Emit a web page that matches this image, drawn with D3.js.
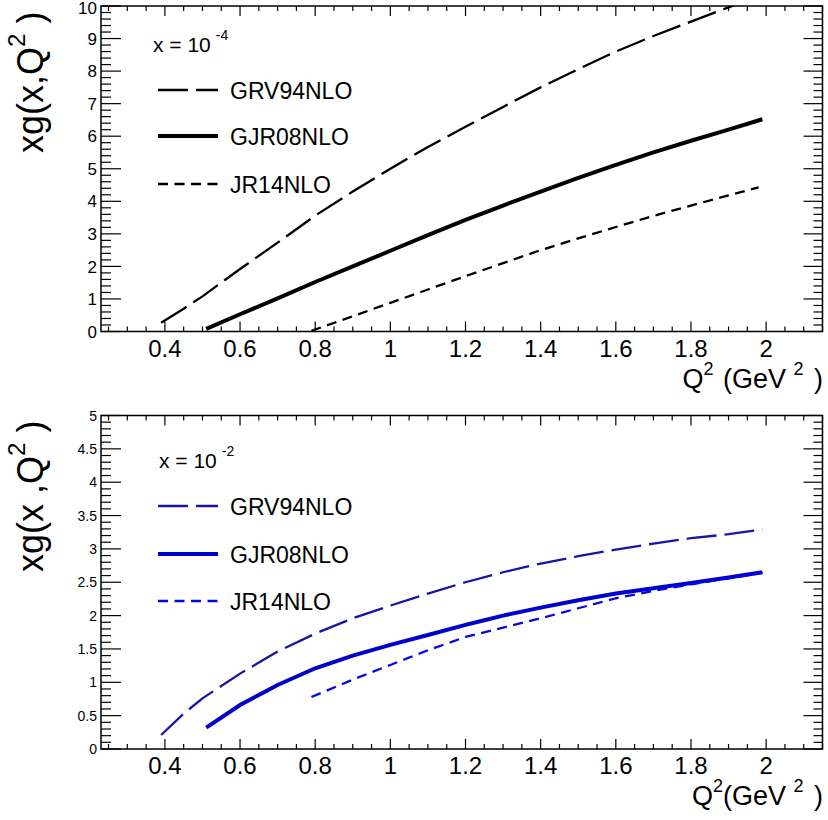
<!DOCTYPE html>
<html>
<head>
<meta charset="utf-8">
<script src="https://cdn.jsdelivr.net/npm/d3@7"></script>
<style>
  html, body { margin: 0; padding: 0; background: #fff; }
  svg { display: block; font-family: "Liberation Sans", Arial, Helvetica, sans-serif; }
</style>
</head>
<body>
<svg id="chart" width="828" height="820"></svg>
<script>
// ---------- data ----------
const seriesNames = ["GRV94NLO", "GJR08NLO", "JR14NLO"];

// panel 1 : x = 1e-4
const q2_grv_a = [0.39, 0.45, 0.5, 0.6, 0.7, 0.8, 0.9, 1.0, 1.1, 1.2, 1.3, 1.4, 1.5, 1.6, 1.7, 1.8, 1.9, 1.99];
const xg_grv_a = [0.27, 0.70, 1.08, 1.92, 2.73, 3.56, 4.30, 5.00, 5.67, 6.29, 6.90, 7.50, 8.06, 8.60, 9.08, 9.52, 9.96, 10.35];
const q2_gjr_a = [0.51, 0.6, 0.7, 0.8, 0.9, 1.0, 1.1, 1.2, 1.3, 1.4, 1.5, 1.6, 1.7, 1.8, 1.9, 1.99];
const xg_gjr_a = [0.08, 0.53, 1.02, 1.52, 2.00, 2.48, 2.96, 3.43, 3.87, 4.30, 4.72, 5.12, 5.50, 5.86, 6.20, 6.52];
const q2_jr_a  = [0.79, 0.9, 1.0, 1.1, 1.2, 1.3, 1.4, 1.5, 1.6, 1.7, 1.8, 1.9, 1.98];
const xg_jr_a  = [0.02, 0.47, 0.88, 1.29, 1.70, 2.10, 2.50, 2.86, 3.21, 3.55, 3.87, 4.18, 4.43];

// panel 2 : x = 1e-2
const q2_grv_b = [0.39, 0.45, 0.5, 0.6, 0.7, 0.8, 0.9, 1.0, 1.1, 1.2, 1.3, 1.4, 1.5, 1.6, 1.7, 1.8, 1.9, 1.99];
const xg_grv_b = [0.21, 0.53, 0.76, 1.13, 1.46, 1.73, 1.96, 2.15, 2.33, 2.50, 2.65, 2.78, 2.89, 2.99, 3.08, 3.16, 3.22, 3.29];
const q2_gjr_b = [0.51, 0.6, 0.7, 0.8, 0.9, 1.0, 1.1, 1.2, 1.25, 1.3, 1.4, 1.5, 1.6, 1.7, 1.8, 1.9, 1.99];
const xg_gjr_b = [0.32, 0.66, 0.96, 1.21, 1.40, 1.56, 1.71, 1.86, 1.93, 2.00, 2.12, 2.23, 2.33, 2.41, 2.49, 2.57, 2.65];
const q2_jr_b  = [0.79, 0.9, 1.0, 1.1, 1.2, 1.3, 1.4, 1.5, 1.6, 1.7, 1.8, 1.9, 1.99];
const xg_jr_b  = [0.78, 1.04, 1.26, 1.48, 1.68, 1.82, 1.96, 2.11, 2.26, 2.37, 2.47, 2.56, 2.64];

const xTicks = [0.4, 0.6, 0.8, 1, 1.2, 1.4, 1.6, 1.8, 2];
const xTickLabels = ["0.4", "0.6", "0.8", "1", "1.2", "1.4", "1.6", "1.8", "2"];
const yTicksA = [0, 1, 2, 3, 4, 5, 6, 7, 8, 9, 10];
const yTickLabelsA = ["0", "1", "2", "3", "4", "5", "6", "7", "8", "9", "10"];
const yTicksB = [0, 0.5, 1, 1.5, 2, 2.5, 3, 3.5, 4, 4.5, 5];
const yTickLabelsB = ["0", "0.5", "1", "1.5", "2", "2.5", "3", "3.5", "4", "4.5", "5"];

// ---------- drawing ----------
const svg = d3.select("#chart");
const X0 = 101, X1 = 822.5;

function zip(a, b) { return a.map((v, i) => [v, b[i]]); }

function panel(opt) {
  const x = d3.scaleLinear().domain([0.23, 2.15]).range([X0, X1]);
  const y = d3.scaleLinear().domain(opt.yDomain).range([opt.yBottom, opt.yTop]);
  const g = svg.append("g");
  const clipId = "clip" + opt.id;
  svg.append("defs").append("clipPath").attr("id", clipId)
    .append("rect").attr("x", X0).attr("y", opt.yTop).attr("width", X1 - X0).attr("height", opt.yBottom - opt.yTop);

  const xMinor = d3.range(0.25, 2.151, 0.05).filter(v => Math.abs(v / 0.2 - Math.round(v / 0.2)) > 1e-6);
  const yMinor = d3.range(opt.yDomain[0], opt.yDomain[1] + 1e-9, opt.yMinorStep)
    .filter(v => Math.abs(v / opt.yMajorStep - Math.round(v / opt.yMajorStep)) > 1e-6);

  const tk = g.append("g").attr("stroke", "#000").attr("stroke-width", 1.2);
  xTicks.forEach(v => {
    tk.append("line").attr("x1", x(v)).attr("x2", x(v)).attr("y1", opt.yBottom).attr("y2", opt.yBottom - 10);
    tk.append("line").attr("x1", x(v)).attr("x2", x(v)).attr("y1", opt.yTop).attr("y2", opt.yTop + 10);
  });
  xMinor.forEach(v => {
    tk.append("line").attr("x1", x(v)).attr("x2", x(v)).attr("y1", opt.yBottom).attr("y2", opt.yBottom - 5);
    tk.append("line").attr("x1", x(v)).attr("x2", x(v)).attr("y1", opt.yTop).attr("y2", opt.yTop + 5);
  });
  opt.yTicks.forEach(v => {
    tk.append("line").attr("x1", X0).attr("x2", X0 + 20).attr("y1", y(v)).attr("y2", y(v));
    tk.append("line").attr("x1", X1).attr("x2", X1 - 19).attr("y1", y(v)).attr("y2", y(v));
  });
  yMinor.forEach(v => {
    tk.append("line").attr("x1", X0).attr("x2", X0 + 10).attr("y1", y(v)).attr("y2", y(v));
    tk.append("line").attr("x1", X1).attr("x2", X1 - 9).attr("y1", y(v)).attr("y2", y(v));
  });

  g.append("rect").attr("x", X0).attr("y", opt.yTop).attr("width", X1 - X0).attr("height", opt.yBottom - opt.yTop)
    .attr("fill", "none").attr("stroke", "#000").attr("stroke-width", 1.5);

  xTicks.forEach((v, i) => {
    g.append("text").attr("x", x(v)).attr("y", opt.yBottom + 25).attr("text-anchor", "middle")
      .attr("font-size", 24).attr("fill", "#000").text(xTickLabels[i]);
  });
  opt.yTicks.forEach((v, i) => {
    g.append("text").attr("x", 97).attr("y", Math.max(y(v), 7.5)).attr("dy", "0.36em").attr("text-anchor", "end")
      .attr("font-size", opt.yLabelSize).attr("fill", "#000").text(opt.yTickLabels[i]);
  });

  const line = d3.line().x(d => x(d[0])).y(d => y(d[1]));
  const cg = g.append("g").attr("clip-path", `url(#${clipId})`).attr("fill", "none");
  opt.series.forEach(s => {
    cg.append("path").datum(zip(s.q, s.v)).attr("d", line)
      .attr("stroke", s.color).attr("stroke-width", s.width)
      .attr("stroke-dasharray", s.dash || null);
  });

  const lg = g.append("g");
  const head = lg.append("text").attr("x", opt.legX).attr("y", opt.legHeadY).attr("font-size", 21).attr("fill", "#000");
  head.append("tspan").text("x = 10");
  head.append("tspan").attr("dx", 5).attr("dy", -12).attr("font-size", 14).text(opt.expo);
  opt.series.forEach((s, i) => {
    const by = opt.legY[i];
    lg.append("line").attr("x1", 158).attr("x2", 218).attr("y1", by - 9).attr("y2", by - 9)
      .attr("stroke", s.color).attr("stroke-width", s.width).attr("stroke-dasharray", s.dash || null);
    lg.append("text").attr("x", 230).attr("y", by).attr("font-size", 23).attr("fill", "#000").text(seriesNames[i]);
  });

  const yt = g.append("text").attr("transform", `translate(43,${opt.yTitleStart}) rotate(-90)`)
    .attr("font-size", 36).attr("fill", "#000");
  yt.append("tspan").text(opt.yTitleMain);
  yt.append("tspan").attr("dy", -18).attr("font-size", 24).text("2");
  yt.append("tspan").attr("dy", 18).text(" )");

  const xt = g.append("text").attr("x", 823).attr("y", opt.xTitleY).attr("text-anchor", "end")
    .attr("font-size", 27).attr("fill", "#000");
  xt.append("tspan").text("Q");
  xt.append("tspan").attr("dy", -13).attr("font-size", 18).text("2");
  xt.append("tspan").attr("dy", 13).attr("dx", opt.xTitleGap).text(opt.xTitleMid);
  xt.append("tspan").attr("dy", -13).attr("font-size", 18).text("2");
  xt.append("tspan").attr("dy", 13).attr("dx", 3).text(" )");
}

panel({
  id: "A", yDomain: [0, 10], yTop: 6, yBottom: 331.5, yMajorStep: 1, yMinorStep: 0.2,
  yTicks: yTicksA, yTickLabels: yTickLabelsA, yLabelSize: 17,
  series: [
    { q: q2_grv_a, v: xg_grv_a, color: "#000", width: 2.3, dash: "30,8" },
    { q: q2_gjr_a, v: xg_gjr_a, color: "#000", width: 4 },
    { q: q2_jr_a,  v: xg_jr_a,  color: "#000", width: 2.3, dash: "10,6.5" }
  ],
  legX: 153, legHeadY: 52, expo: "-4", legY: [99, 145, 193],
  yTitleStart: 153, yTitleMain: "xg(x,Q",
  xTitleY: 388, xTitleMid: " (GeV ", xTitleGap: 2
});

panel({
  id: "B", yDomain: [0, 5], yTop: 415.5, yBottom: 749, yMajorStep: 0.5, yMinorStep: 0.1,
  yTicks: yTicksB, yTickLabels: yTickLabelsB, yLabelSize: 14,
  series: [
    { q: q2_grv_b, v: xg_grv_b, color: "#1616a6", width: 2.3, dash: "30,8" },
    { q: q2_gjr_b, v: xg_gjr_b, color: "#0000cc", width: 4 },
    { q: q2_jr_b,  v: xg_jr_b,  color: "#0505e6", width: 2.3, dash: "10,6.5" }
  ],
  legX: 159, legHeadY: 468, expo: "-2", legY: [515, 563, 610],
  yTitleStart: 572, yTitleMain: "xg(x ,Q",
  xTitleY: 805, xTitleMid: "(GeV ", xTitleGap: 0
});
</script>
</body>
</html>
